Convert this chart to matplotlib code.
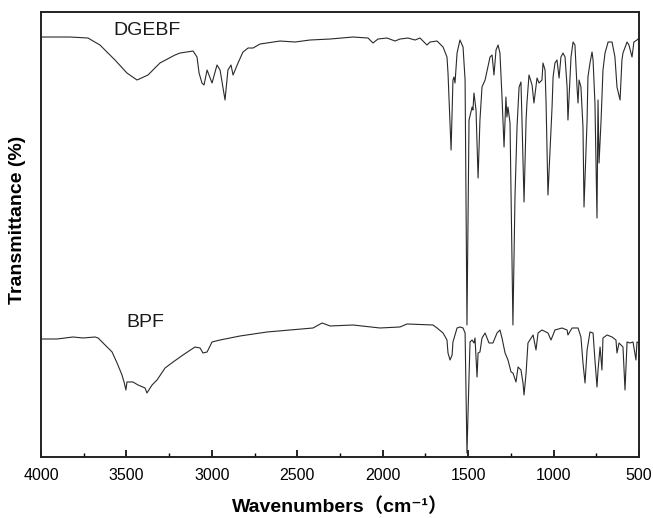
import numpy as np
import matplotlib
matplotlib.use('Agg')
import matplotlib.pyplot as plt
from matplotlib.ticker import MultipleLocator

plt.rcParams['font.family'] = ['Liberation Sans', 'DejaVu Sans', 'Noto Sans CJK SC']

# ===== 数据（从原图读取，透过率为任意单位） =====
dgebf_wn = [4000, 3830, 3725, 3655, 3567, 3497, 3438, 3374, 3304, 3216, 3186, 3110,
            3087, 3075, 3058, 3046, 3028, 2999, 2970, 2952, 2923, 2906, 2888, 2876,
            2847, 2818, 2788, 2759, 2718, 2601, 2513, 2426, 2308, 2174, 2086, 2057,
            2028, 1975, 1928, 1899, 1852, 1811, 1782, 1741, 1723, 1682, 1647, 1624,
            1618, 1600, 1589, 1583, 1577, 1565, 1548, 1530, 1518, 1507, 1495, 1477,
            1472, 1466, 1454, 1442, 1431, 1419, 1401, 1372, 1360, 1349, 1337, 1325,
            1314, 1302, 1290, 1279, 1273, 1267, 1255, 1238, 1226, 1214, 1202, 1191,
            1185, 1173, 1161, 1156, 1144, 1126, 1115, 1097, 1085, 1068, 1062, 1050,
            1044, 1033, 1009, 1003, 992, 980, 968, 957, 945, 933, 921, 916, 898, 886,
            875, 863, 857, 851, 840, 828, 822, 804, 799, 787, 775, 769, 758, 746, 740,
            734, 722, 711, 699, 681, 658, 641, 629, 611, 600, 594, 570, 559, 541, 530,
            512, 500]
dgebf_t = [420, 420, 419, 412, 397, 384, 377, 382, 394, 402, 404, 406,
           400, 384, 374, 372, 387, 374, 392, 387, 357, 387, 392, 382,
           394, 405, 409, 409, 413, 416, 415, 417, 418, 420, 419, 414,
           418, 419, 416, 418, 419, 417, 419, 412, 415, 416, 410, 400,
           384, 307, 377, 380, 374, 404, 417, 410, 377, 132, 337, 350,
           347, 364, 347, 279, 337, 370, 377, 400, 402, 382, 407, 412,
           404, 360, 310, 360, 340, 350, 334, 132, 260, 330, 370, 375,
           337, 255, 337, 354, 382, 372, 354, 379, 374, 377, 394, 387,
           354, 262, 350, 380, 394, 397, 379, 400, 404, 400, 370, 337, 400, 415,
           412, 370, 354, 377, 370, 330, 250, 337, 380, 394, 405, 397, 354, 239, 357,
           294, 337, 387, 404, 415, 415, 400, 370, 357, 397, 404, 415, 412, 400, 415,
           417, 419]

bpf_wn = [3994, 3906, 3813, 3754, 3684, 3666, 3625, 3584, 3555, 3526, 3514, 3503,
          3497, 3462, 3432, 3391, 3380, 3350, 3321, 3274, 3227, 3169, 3099, 3069,
          3052, 3028, 2999, 2952, 2835, 2677, 2408, 2355, 2308, 2174, 2016, 1899,
          1858, 1706, 1682, 1647, 1624, 1618, 1606, 1594, 1589, 1565, 1548, 1530,
          1518, 1507, 1495, 1489, 1477, 1466, 1460, 1448, 1442, 1431, 1419, 1401,
          1378, 1355, 1331, 1314, 1302, 1284, 1267, 1249, 1238, 1220, 1208, 1191,
          1179, 1173, 1161, 1150, 1120, 1103, 1091, 1068, 1033, 1015, 992, 951, 921,
          916, 892, 857, 840, 828, 816, 804, 787, 769, 758, 746, 740, 728, 717, 711,
          687, 658, 635, 629, 617, 594, 582, 570, 553, 535, 518, 512, 500]
bpf_t = [118, 118, 120, 119, 120, 119, 112, 105, 94, 82, 75, 67,
         75, 75, 72, 69, 64, 72, 77, 89, 95, 102, 110, 109,
         104, 105, 115, 117, 121, 125, 129, 134, 131, 132, 129, 130,
         133, 132, 129, 124, 117, 104, 97, 102, 115, 129, 130, 129,
         124, 4, 80, 115, 117, 114, 119, 80, 104, 105, 119, 124,
         114, 114, 124, 127, 119, 104, 97, 85, 84, 75, 90, 87,
         74, 62, 84, 114, 122, 107, 124, 127, 124, 117, 127, 129, 127,
         122, 129, 129, 120, 94, 74, 107, 125, 124, 97, 70, 87, 110, 87, 119,
         122, 120, 117, 104, 114, 110, 67, 115, 114, 115, 97, 115, 114]

# ===== 绘图 =====
fig = plt.figure(figsize=(6.53, 5.18), dpi=100)
ax = fig.add_axes([0.0628, 0.1178, 0.9158, 0.859])

ax.plot(dgebf_wn, dgebf_t, color='#2a2a2a', linewidth=0.8)
ax.plot(bpf_wn, bpf_t, color='#2a2a2a', linewidth=0.8)

ax.text(3380, 427, 'DGEBF', fontsize=14, ha='center', va='center', color='#1a1a1a')
ax.text(3390, 134, 'BPF', fontsize=14, ha='center', va='center', color='#1a1a1a')

ax.set_xlim(4000, 500)
ax.set_ylim(0, 445)
ax.xaxis.set_major_locator(MultipleLocator(500))
ax.xaxis.set_minor_locator(MultipleLocator(250))
ax.set_yticks([])
ax.tick_params(axis='x', which='major', direction='in', length=5, width=1.2,
               labelsize=11.5, pad=8, top=False)
ax.tick_params(axis='x', which='minor', direction='in', length=3, width=1.0, top=False)
for sp in ax.spines.values():
    sp.set_linewidth(1.4)
    sp.set_color('#222222')

ax.set_xlabel('Wavenumbers（cm⁻¹）', fontsize=14, fontweight='bold', labelpad=10)
ax.set_ylabel('Transmittance (%)', fontsize=14, fontweight='bold')
ax.yaxis.set_label_coords(-0.025, 0.533)

fig.savefig('out.png', dpi=100, facecolor='white')
